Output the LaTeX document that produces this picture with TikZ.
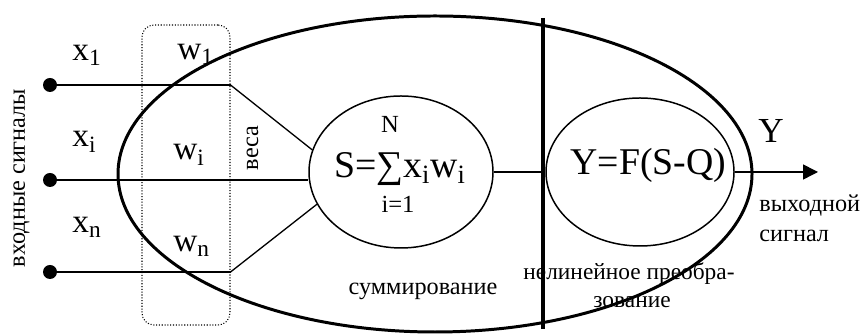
\documentclass[tikz,border=0pt]{standalone}
\usepackage{fontspec}
\setmainfont{Liberation Serif}
\usetikzlibrary{
  arrows.meta,
  shapes.geometric
}

\begin{document}
\begin{tikzpicture}[>={Triangle[length=0.3cm,width=0.3cm]},
  oval/.style={draw,ellipse,inner sep=0pt,line width=0.85pt},
  dot/.style={circle,fill,inner sep=0pt,minimum size=0.28cm},
  inline/.style={line width=1.1pt},
  wline/.style={line width=0.75pt},
  lbl/.style={font=\fontsize{19}{21}\selectfont,inner sep=0pt,anchor=base west},
  formula/.style={font=\fontsize{21.5}{24}\selectfont,inner sep=0pt,anchor=base},
  limit/.style={font=\fontsize{14}{16}\selectfont,inner sep=0pt,anchor=base},
  small/.style={font=\fontsize{13.8}{16}\selectfont,inner sep=0pt,anchor=base}]
  \useasboundingbox (0,0) rectangle (17.24,6.68);
  % neuron body and weights frame
  \node[oval,line width=1.7pt,minimum width=12.68cm,minimum height=6.32cm] (body) at (8.70,3.20) {};
  \node[draw,densely dotted,line width=0.6pt,rounded corners=0.24cm,
        minimum width=1.76cm,minimum height=6.0cm] (wframe) at (3.72,3.18) {};
  \node[oval,minimum width=3.68cm,minimum height=3.04cm] (sum) at (8.02,3.24) {};
  \node[oval,minimum width=3.76cm,minimum height=2.96cm] (act) at (12.80,3.24) {};
  \draw[line width=2.8pt] (10.86,6.32) -- (10.86,0.10);
  % inputs
  \node[dot] (in1) at (1.00,4.98) {};
  \node[dot] (in2) at (1.00,3.08) {};
  \node[dot] (in3) at (1.00,1.24) {};
  \coordinate (k1) at (in1 -| wframe.east);
  \coordinate (k3) at (in3 -| wframe.east);
  \draw[inline] (in1) -- (k1);
  \draw[inline] (in2) -- (in2 -| sum.west);
  \draw[inline] (in3) -- (k3);
  \draw[wline] (k1) -- (sum.166);
  \draw[wline] (k3) -- (sum.201);
  \draw[wline] (sum.east) -- (act.west);
  \coordinate (out) at (16.36,3.24);
  \draw[->,line width=0.85pt] (act.east) -- (out);
  % labels
  \node[lbl] (x1) at (1.44,5.46) {x\textsubscript{1}};
  \node[lbl] (xi) at (1.44,3.74) {x\textsubscript{i}};
  \node[lbl] (xn) at (1.44,2.02) {x\textsubscript{n}};
  \node[lbl] (w1) at (3.54,5.48) {w\textsubscript{1}};
  \node[lbl] (wi) at (3.46,3.48) {w\textsubscript{i}};
  \node[lbl] (wn) at (3.46,1.64) {w\textsubscript{n}};
  \node[small,rotate=90] (inputs) at (0.50,3.12) {входные сигналы};
  \node[small,rotate=90] (weights) at (5.16,3.72) {веса};
  \node[limit] (upper) at (7.80,4.02) {N};
  \node[formula] (sumf) at (8.00,3.12) {S=∑x\textsubscript{i}w\textsubscript{i}};
  \node[limit] (lower) at (7.96,2.42) {i=1};
  \node[formula] (actf) at (12.97,3.18) {Y=F(S-Q)};
  \node[formula,font=\fontsize{20}{22}\selectfont] (y) at (15.42,3.82) {Y};
  \node[small,anchor=base west] (outl1) at (15.18,2.44) {выходной};
  \node[small,anchor=base west] (outl2) at (15.18,1.84) {сигнал};
  \node[small] (suml) at (8.46,0.78) {суммирование};
  \node[small,font=\fontsize{13.3}{16}\selectfont] (actl1) at (12.58,1.08) {нелинейное преобра-};
  \node[small,font=\fontsize{13.3}{16}\selectfont] (actl2) at (12.64,0.52) {зование};
\end{tikzpicture}
\end{document}
